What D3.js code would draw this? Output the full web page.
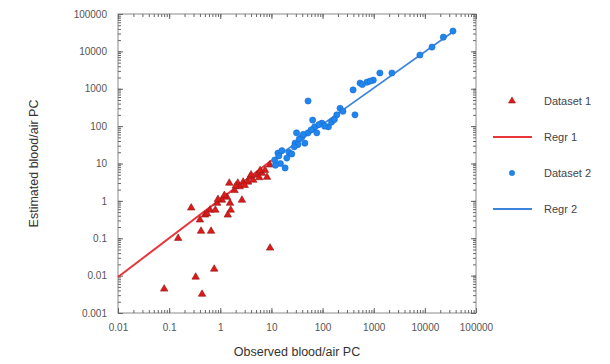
<!DOCTYPE html>
<html>
<head>
<meta charset="utf-8">
<script src="https://cdn.jsdelivr.net/npm/d3@7"></script>
<style>
  body { margin: 0; background: #fff; }
  svg { font-family: "Liberation Sans", Arial, sans-serif; }
</style>
</head>
<body>
<div id="chart"></div>
<script>
// observed vs estimated blood/air partition coefficients
const set1Obs = [0.08, 0.33, 0.44, 0.76, 9.4, 0.15, 0.27, 0.42, 0.66, 0.4, 0.5, 0.63, 0.8, 0.87, 1.08, 1.35, 1.4, 1.6, 1.5, 1.55, 1.9, 2.2, 2.4, 2.65, 2.8, 3.5, 3.8, 4.4, 5.2, 6.5, 7.5, 8.2, 9.3, 3.0, 4.0, 5.8, 6.0, 2.0, 1.2, 0.9, 0.55]
const set1Est = [0.0044, 0.0092, 0.0032, 0.015, 0.055, 0.1, 0.65, 0.155, 0.155, 0.31, 0.42, 0.57, 0.57, 0.87, 1.05, 1.26, 0.42, 0.57, 3.0, 0.87, 1.9, 3.0, 2.4, 1.05, 3.2, 3.2, 4.3, 3.6, 4.9, 5.5, 6.6, 4.3, 9.2, 2.6, 5.0, 4.2, 6.5, 2.5, 1.4, 1.1, 0.45]

const set2Obs = [11.6, 13.4, 18.5, 20, 15, 12, 22, 25, 29, 33, 31, 39.5, 45, 52, 52, 64, 70, 77, 97, 130, 150, 190, 220, 430, 395, 540, 740, 980, 1320, 2270, 8000, 13800, 23000, 35500, 35, 42, 60, 85, 110, 170, 250, 600, 850, 14, 16, 28]
const set2Est = [12.4, 19, 7.6, 14, 10, 9, 20, 18, 35, 32, 66, 51, 35, 66, 470, 145, 96, 66, 120, 96, 128, 200, 300, 200, 930, 1420, 1500, 1700, 2640, 2640, 8000, 13000, 24000, 35000, 45, 60, 80, 110, 100, 150, 250, 1300, 1600, 16, 22, 28]

// regression lines, end points
const regr1 = [[0.01, 0.0092], [10, 12]]
const regr2 = [[10, 12], [35000, 33000]]

const xTicks = [0.01, 0.1, 1, 10, 100, 1000, 10000, 100000]
const yTicks = [0.001, 0.01, 0.1, 1, 10, 100, 1000, 10000, 100000]
const legendItems = ["Dataset 1", "Regr 1", "Dataset 2", "Regr 2"]

const W = 610, H = 364
const m = { left: 118, right: 134, top: 14, bottom: 51 }
const red = "#e01818", blue = "#1f86ee"
const redLine = "#e8353a", blueLine = "#3b83dc"

const svg = d3.select("#chart").append("svg")
    .attr("width", W)
    .attr("height", H)

const x = d3.scaleLog([0.01, 100000], [m.left, W - m.right])
const y = d3.scaleLog([0.001, 100000], [H - m.bottom, m.top])

// frame
svg.append("rect")
    .attr("x", m.left).attr("y", m.top)
    .attr("width", W - m.right - m.left)
    .attr("height", H - m.bottom - m.top)
    .attr("fill", "none")
    .attr("stroke", "#8a8a8a")

const fmt = d => d >= 1 ? d3.format("d")(d) : String(d)

// ticks point inwards on all four sides, labels only bottom/left
function ticksOn(g, axisFn, scale, majors, pos, labels) {
    g.attr("transform", pos)
    g.append("g").call(axisFn(scale).tickValues(scale.ticks()).tickSize(-3).tickFormat(""))
    g.append("g").call(axisFn(scale).tickValues(majors).tickSize(-5).tickPadding(labels ? 11 : 0).tickFormat(labels ? fmt : ""))
    g.selectAll(".domain").remove()
    g.selectAll(".tick line").attr("stroke", "#666")
    g.selectAll(".tick text")
        .attr("font-size", 10)
        .attr("fill", "#555")
        .attr("font-family", "Liberation Sans, Arial, sans-serif")
}

svg.append("g").call(g => ticksOn(g, d3.axisBottom, x, xTicks, `translate(0,${H - m.bottom})`, true))
svg.append("g").call(g => ticksOn(g, d3.axisTop, x, xTicks, `translate(0,${m.top})`, false))
svg.append("g").call(g => ticksOn(g, d3.axisLeft, y, yTicks, `translate(${m.left},0)`, true))
svg.append("g").call(g => ticksOn(g, d3.axisRight, y, yTicks, `translate(${W - m.right},0)`, false))

const line = d3.line().x(d => x(d[0])).y(d => y(d[1]))

svg.append("path").datum(regr1)
    .attr("d", line)
    .attr("stroke", redLine).attr("stroke-width", 2).attr("fill", "none")

svg.append("path").datum(regr2)
    .attr("d", line)
    .attr("stroke", blueLine).attr("stroke-width", 1.6).attr("fill", "none")

const tri = d3.symbol().type(d3.symbolTriangle).size(24)

svg.append("g")
    .selectAll("path")
    .data(d3.zip(set1Obs, set1Est))
    .join("path")
    .attr("d", tri)
    .attr("transform", d => `translate(${x(d[0])},${y(d[1])})`)
    .attr("fill", red)
    .attr("stroke", "#8c1a1a")
    .attr("stroke-width", 0.6)

svg.append("g")
    .selectAll("circle")
    .data(d3.zip(set2Obs, set2Est))
    .join("circle")
    .attr("cx", d => x(d[0]))
    .attr("cy", d => y(d[1]))
    .attr("r", 3.1)
    .attr("fill", blue)
    .attr("stroke", "#1a6ad0")
    .attr("stroke-width", 0.6)

// legend
const lg = svg.append("g").attr("transform", "translate(492,101)")
const item = lg.selectAll("g")
    .data(legendItems)
    .join("g")
    .attr("transform", (d, i) => `translate(0,${i * 36})`)

item.filter((d, i) => i === 0).append("path")
    .attr("d", d3.symbol().type(d3.symbolTriangle).size(22))
    .attr("transform", "translate(20,0)")
    .attr("fill", red).attr("stroke", "#8c1a1a").attr("stroke-width", 0.5)
item.filter((d, i) => i === 2).append("circle")
    .attr("cx", 20).attr("r", 2.7)
    .attr("fill", blue).attr("stroke", "#1a6ad0").attr("stroke-width", 0.5)
item.filter((d, i) => i === 1 || i === 3).append("line")
    .attr("x1", 1).attr("x2", 40)
    .attr("stroke", (d, i) => i === 0 ? redLine : blueLine)
    .attr("stroke-width", 2)
item.append("text")
    .attr("x", 52).attr("dy", "0.35em")
    .attr("font-size", 11)
    .attr("fill", "#444")
    .text(d => d)

// axis titles
svg.append("text")
    .attr("x", (m.left + W - m.right) / 2)
    .attr("y", 356)
    .attr("text-anchor", "middle")
    .attr("font-size", 12.5)
    .attr("fill", "#333")
    .text("Observed blood/air PC")

svg.append("text")
    .attr("transform", `translate(38,${(m.top + H - m.bottom) / 2}) rotate(-90)`)
    .attr("text-anchor", "middle")
    .attr("font-size", 12.5)
    .attr("fill", "#333")
    .text("Estimated blood/air PC")
</script>
</body>
</html>
